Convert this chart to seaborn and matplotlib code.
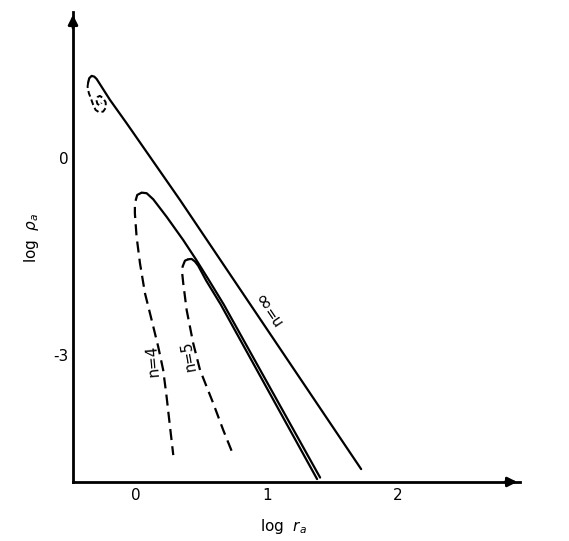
import numpy as np
import pandas as pd
import matplotlib
matplotlib.use('Agg')
import matplotlib.pyplot as plt
import seaborn as sns

sns.set_style('white')
plt.rcParams['font.family'] = ['DejaVu Sans']
plt.rcParams['mathtext.fontset'] = 'dejavusans'
plt.rcParams['text.color'] = 'black'
plt.rcParams['axes.labelcolor'] = 'black'
plt.rcParams['xtick.color'] = 'black'
plt.rcParams['ytick.color'] = 'black'

# log r_a / log rho_a values

# n = inf, solid branch (hook at top then straight line)
inf_x = [-0.364, -0.356, -0.338, -0.318, -0.300, -0.198, -0.071, 0.336, 1.718]
inf_y = [1.152, 1.213, 1.248, 1.237, 1.202, 0.883, 0.528, -0.639, -4.734]

# n = inf, dashed spiral branch
spiral_x = [-0.364, -0.369, -0.359, -0.344, -0.326, -0.308, -0.282, -0.250, -0.229,
            -0.231, -0.250, -0.275, -0.292, -0.302, -0.294, -0.275, -0.262]
spiral_y = [1.152, 1.085, 0.985, 0.909, 0.807, 0.731, 0.696, 0.705, 0.766,
            0.848, 0.909, 0.944, 0.928, 0.883, 0.822, 0.799, 0.837]

# n = 4
n4_solid_x = [0.044, 0.082, 0.132, 0.234, 0.361, 0.46, 0.56, 0.67, 1.405]
n4_solid_y = [-0.528, -0.537, -0.629, -0.895, -1.250, -1.55, -1.87, -2.23, -4.863]
n4_dash_x = [0.044, 0.010, -0.008, -0.008, 0.005, 0.031, 0.069, 0.120, 0.170,
             0.208, 0.234, 0.260, 0.285]
n4_dash_y = [-0.528, -0.563, -0.689, -0.842, -1.198, -1.603, -2.059, -2.466, -2.872,
             -3.227, -3.633, -4.090, -4.521]

# n = 5
n5_solid_x = [0.399, 0.425, 0.450, 0.475, 0.537, 0.647, 1.382]
n5_solid_y = [-1.542, -1.537, -1.575, -1.640, -1.870, -2.230, -4.886]
n5_dash_x = [0.399, 0.374, 0.356, 0.353, 0.361, 0.387, 0.437, 0.489, 0.590, 0.666, 0.743]
n5_dash_y = [-1.542, -1.563, -1.654, -1.755, -1.907, -2.314, -2.820, -3.227, -3.734,
             -4.140, -4.521]

x_ticks = [0, 1, 2]
x_ticklabels = ['0', '1', '2']
y_ticks = [0, -3]
y_ticklabels = ['0', '-3']

fig = plt.figure(figsize=(5.69, 5.41), dpi=100)
ax = fig.add_axes([0.1283, 0.1091, 0.7856, 0.8687])

lw = 1.6
for xs, ys in [(inf_x, inf_y), (n4_solid_x, n4_solid_y), (n5_solid_x, n5_solid_y)]:
    sns.lineplot(x=xs, y=ys, sort=False, estimator=None, color='black', lw=lw, ax=ax)

long_dash = (0, (5, 2.8))
for xs, ys in [(n4_dash_x, n4_dash_y), (n5_dash_x, n5_dash_y)]:
    sns.lineplot(x=xs, y=ys, sort=False, estimator=None, color='black', lw=lw,
                 linestyle=long_dash, ax=ax)
sns.lineplot(x=spiral_x, y=spiral_y, sort=False, estimator=None, color='black', lw=1.4,
             linestyle=(0, (3, 1.6)), ax=ax)

# curve labels; the infinity sign is drawn larger, as in the original lettering
ang = np.deg2rad(124)
ux, uy = np.cos(ang), np.sin(ang)
ax.annotate('n=', xy=(1.008, -2.268), xytext=(-6.5 * ux, -6.5 * uy),
            textcoords='offset points', rotation=124, rotation_mode='anchor',
            ha='center', va='center', fontsize=10.5)
ax.annotate('\u221e', xy=(1.008, -2.268), xytext=(7.5 * ux, 7.5 * uy),
            textcoords='offset points', rotation=124, rotation_mode='anchor',
            ha='center', va='center', fontsize=15)
ax.text(0.132, -3.087, 'n=4', rotation=95, rotation_mode='anchor',
        ha='center', va='center', fontsize=11)
ax.text(0.405, -3.014, 'n=5', rotation=100, rotation_mode='anchor',
        ha='center', va='center', fontsize=10.5)

ax.set_xlim(-0.48, 2.93)
ax.set_ylim(-4.93, 2.22)
ax.set_xticks(x_ticks)
ax.set_xticklabels(x_ticklabels)
ax.set_yticks(y_ticks)
ax.set_yticklabels(y_ticklabels)
ax.tick_params(axis='x', direction='in', length=7, width=1.5, pad=4, labelsize=11,
               colors='black')
ax.tick_params(axis='y', direction='in', length=6, width=1.5, pad=3, labelsize=11,
               colors='black')

sns.despine(ax=ax)
for s in ['left', 'bottom']:
    ax.spines[s].set_linewidth(2)
    ax.spines[s].set_color('black')

# arrow heads on the axes
ax.annotate('', xy=(0, 1), xytext=(0, 0.96), xycoords='axes fraction',
            arrowprops=dict(arrowstyle='-|>', color='black', lw=2, mutation_scale=14))
ax.annotate('', xy=(1, 0), xytext=(0.96, 0), xycoords='axes fraction',
            arrowprops=dict(arrowstyle='-|>', color='black', lw=2, mutation_scale=14))

ax.set_xlabel(r'log  $r_a$', fontsize=11)
ax.xaxis.set_label_coords(0.470, -0.075)
ax.set_ylabel(r'log  $\rho_a$', fontsize=11)
ax.yaxis.set_label_coords(-0.071, 0.519)

fig.savefig('out.png', dpi=100, facecolor='white')
